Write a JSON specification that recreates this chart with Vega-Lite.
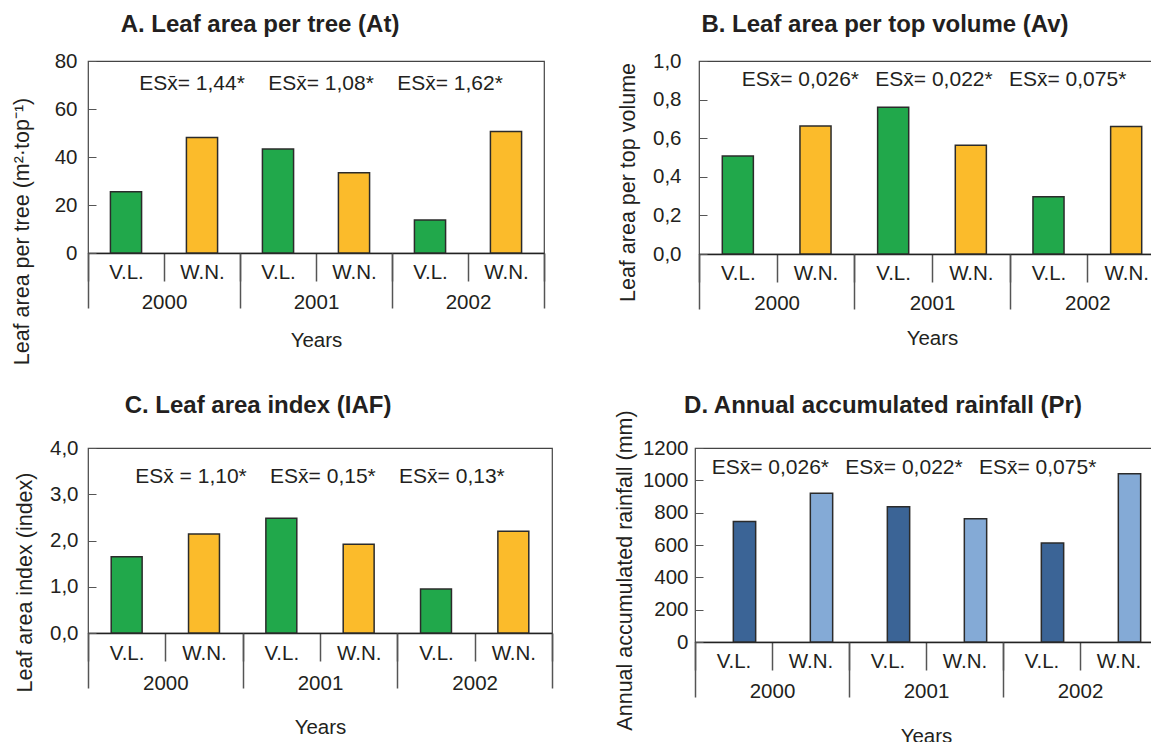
{
  "$schema": "https://vega.github.io/schema/vega-lite/v6.json",
  "padding": {"left": 10, "top": 12, "right": 0, "bottom": 0},
  "background": "white",
  "resolve": {"scale": {"fill": "independent"}},
  "spacing": 24,
  "vconcat": [
    {
      "spacing": 70,
      "resolve": {"scale": {"fill": "independent"}},
      "hconcat": [
        {
          "width": 456, "height": 192,
          "title": {"text": "A. Leaf area per tree (At)", "dx": -56, "offset": 14},
          "layer": [
            {
              "data": {"values": [
                {"year": "2000", "trt": "V.L.", "cat": "2000 V.L.", "value": 25.5},
                {"year": "2000", "trt": "W.N.", "cat": "2000 W.N.", "value": 48.1},
                {"year": "2001", "trt": "V.L.", "cat": "2001 V.L.", "value": 43.3},
                {"year": "2001", "trt": "W.N.", "cat": "2001 W.N.", "value": 33.4},
                {"year": "2002", "trt": "V.L.", "cat": "2002 V.L.", "value": 13.7},
                {"year": "2002", "trt": "W.N.", "cat": "2002 W.N.", "value": 50.6}
              ]},
              "mark": {"type": "bar", "width": {"band": 0.41}, "stroke": "#2b2b2b", "strokeWidth": 1.5},
              "encoding": {
                "x": {"field": "cat", "type": "nominal", "sort": null, "scale": {"paddingInner": 0, "paddingOuter": 0},
                  "axis": {"orient": "bottom", "title": null, "labelAngle": 0, "labelExpr": "split(datum.label, ' ')[1]", "tickBand": "extent", "tickSize": 28, "tickWidth": 1.5, "labelPadding": -19, "domainWidth": 1.5}},
                "y": {"field": "value", "type": "quantitative", "scale": {"domain": [0, 80]},
                  "axis": {"title": "Leaf area per tree  (m²·top⁻¹)", "values": [0, 20, 40, 60, 80], "format": "d", "labelOverlap": false, "tickSize": -8, "domain": false, "grid": false, "labelPadding": 19, "titleFontSize": 21.5, "titleX": -66, "titleY": 170, "titleBaseline": "middle", "titleAngle": 270, "titleAlign": "center"}},
                "fill": {"field": "trt", "type": "nominal", "scale": {"domain": ["V.L.", "W.N."], "range": ["#21a84b", "#fbbb2b"]}, "legend": null}
              }
            },
            {
              "data": {"values": [{"year": "2001", "es": "ESx̄= 1,44* \u00a0\u00a0\u00a0ESx̄= 1,08* \u00a0\u00a0\u00a0ESx̄= 1,62*"}]},
              "mark": {"type": "text", "fontSize": 21, "dx": 5, "baseline": "middle"},
              "encoding": {
                "x": {"field": "year", "type": "nominal", "scale": {"domain": ["2000", "2001", "2002"], "paddingInner": 0, "paddingOuter": 0},
                  "axis": {"orient": "bottom", "title": "Years", "labelAngle": 0, "tickBand": "extent", "tickSize": 55, "tickWidth": 1.5, "domain": false, "labelPadding": -16, "titlePadding": 18}},
                "y": {"datum": 70.5, "type": "quantitative",
                  "axis": {"title": "Leaf area per tree  (m²·top⁻¹)", "values": [0, 20, 40, 60, 80], "format": "d", "labelOverlap": false, "tickSize": -8, "domain": false, "grid": false, "labelPadding": 19, "titleFontSize": 21.5, "titleX": -66, "titleY": 170, "titleBaseline": "middle", "titleAngle": 270, "titleAlign": "center"}},
                "text": {"field": "es"}
              }
            }
          ],
          "resolve": {"scale": {"x": "independent"}, "axis": {"x": "independent"}}
        },
        {
          "width": 466, "height": 193,
          "title": {"text": "B. Leaf area per top volume (Av)", "dx": -47, "offset": 14},
          "layer": [
            {
              "data": {"values": [
                {"year": "2000", "trt": "V.L.", "cat": "2000 V.L.", "value": 0.508},
                {"year": "2000", "trt": "W.N.", "cat": "2000 W.N.", "value": 0.663},
                {"year": "2001", "trt": "V.L.", "cat": "2001 V.L.", "value": 0.760},
                {"year": "2001", "trt": "W.N.", "cat": "2001 W.N.", "value": 0.563},
                {"year": "2002", "trt": "V.L.", "cat": "2002 V.L.", "value": 0.297},
                {"year": "2002", "trt": "W.N.", "cat": "2002 W.N.", "value": 0.660}
              ]},
              "mark": {"type": "bar", "width": {"band": 0.40}, "stroke": "#2b2b2b", "strokeWidth": 1.5},
              "encoding": {
                "x": {"field": "cat", "type": "nominal", "sort": null, "scale": {"paddingInner": 0, "paddingOuter": 0},
                  "axis": {"orient": "bottom", "title": null, "labelAngle": 0, "labelExpr": "split(datum.label, ' ')[1]", "tickBand": "extent", "tickSize": 28, "tickWidth": 1.5, "labelPadding": -19, "domainWidth": 1.5}},
                "y": {"field": "value", "type": "quantitative", "scale": {"domain": [0, 1]},
                  "axis": {"title": "Leaf area per top volume", "values": [0, 0.2, 0.4, 0.6, 0.8, 1.0], "labelOverlap": false, "labelExpr": "replace(format(datum.value, '.1f'), '.', ',')", "tickSize": -8, "domain": false, "grid": false, "labelPadding": 26, "titleFontSize": 21.5, "titleX": -71, "titleY": 121, "titleBaseline": "middle", "titleAngle": 270, "titleAlign": "center"}},
                "fill": {"field": "trt", "type": "nominal", "scale": {"domain": ["V.L.", "W.N."], "range": ["#21a84b", "#fbbb2b"]}, "legend": null}
              }
            },
            {
              "data": {"values": [{"year": "2001", "es": "ESx̄= 0,026* \u2002ESx̄= 0,022* \u2002ESx̄= 0,075*"}]},
              "mark": {"type": "text", "fontSize": 21, "dx": 2, "baseline": "middle"},
              "encoding": {
                "x": {"field": "year", "type": "nominal", "scale": {"domain": ["2000", "2001", "2002"], "paddingInner": 0, "paddingOuter": 0},
                  "axis": {"orient": "bottom", "title": "Years", "labelAngle": 0, "tickBand": "extent", "tickSize": 55, "tickWidth": 1.5, "domain": false, "labelPadding": -16, "titlePadding": 15}},
                "y": {"datum": 0.9, "type": "quantitative",
                  "axis": {"title": "Leaf area per top volume", "values": [0, 0.2, 0.4, 0.6, 0.8, 1.0], "labelOverlap": false, "labelExpr": "replace(format(datum.value, '.1f'), '.', ',')", "tickSize": -8, "domain": false, "grid": false, "labelPadding": 26, "titleFontSize": 21.5, "titleX": -71, "titleY": 121, "titleBaseline": "middle", "titleAngle": 270, "titleAlign": "center"}},
                "text": {"field": "es"}
              }
            }
          ],
          "resolve": {"scale": {"x": "independent"}, "axis": {"x": "independent"}}
        }
      ]
    },
    {
      "spacing": 59,
      "resolve": {"scale": {"fill": "independent"}},
      "hconcat": [
        {
          "width": 464, "height": 185,
          "title": {"text": "C. Leaf area index (IAF)", "dx": -62, "offset": 20},
          "layer": [
            {
              "data": {"values": [
                {"year": "2000", "trt": "V.L.", "cat": "2000 V.L.", "value": 1.65},
                {"year": "2000", "trt": "W.N.", "cat": "2000 W.N.", "value": 2.14},
                {"year": "2001", "trt": "V.L.", "cat": "2001 V.L.", "value": 2.48},
                {"year": "2001", "trt": "W.N.", "cat": "2001 W.N.", "value": 1.92},
                {"year": "2002", "trt": "V.L.", "cat": "2002 V.L.", "value": 0.95},
                {"year": "2002", "trt": "W.N.", "cat": "2002 W.N.", "value": 2.20}
              ]},
              "mark": {"type": "bar", "width": {"band": 0.40}, "stroke": "#2b2b2b", "strokeWidth": 1.5},
              "encoding": {
                "x": {"field": "cat", "type": "nominal", "sort": null, "scale": {"paddingInner": 0, "paddingOuter": 0},
                  "axis": {"orient": "bottom", "title": null, "labelAngle": 0, "labelExpr": "split(datum.label, ' ')[1]", "tickBand": "extent", "tickSize": 28, "tickWidth": 1.5, "labelPadding": -18, "domainWidth": 1.5}},
                "y": {"field": "value", "type": "quantitative", "scale": {"domain": [0, 4]},
                  "axis": {"title": "Leaf area index  (index)", "values": [0, 1, 2, 3, 4], "labelOverlap": false, "labelExpr": "replace(format(datum.value, '.1f'), '.', ',')", "tickSize": -8, "domain": false, "grid": false, "labelPadding": 18, "titleFontSize": 21.5, "titleX": -63, "titleY": 134, "titleBaseline": "middle", "titleAngle": 270, "titleAlign": "center"}},
                "fill": {"field": "trt", "type": "nominal", "scale": {"domain": ["V.L.", "W.N."], "range": ["#21a84b", "#fbbb2b"]}, "legend": null}
              }
            },
            {
              "data": {"values": [{"year": "2001", "es": "ESx̄ = 1,10* \u00a0\u00a0\u00a0ESx̄= 0,15* \u00a0\u00a0\u00a0ESx̄= 0,13*"}]},
              "mark": {"type": "text", "fontSize": 21, "dx": 0, "baseline": "middle"},
              "encoding": {
                "x": {"field": "year", "type": "nominal", "scale": {"domain": ["2000", "2001", "2002"], "paddingInner": 0, "paddingOuter": 0},
                  "axis": {"orient": "bottom", "title": "Years", "labelAngle": 0, "tickBand": "extent", "tickSize": 55, "tickWidth": 1.5, "domain": false, "labelPadding": -15, "titlePadding": 24}},
                "y": {"datum": 3.37, "type": "quantitative",
                  "axis": {"title": "Leaf area index  (index)", "values": [0, 1, 2, 3, 4], "labelOverlap": false, "labelExpr": "replace(format(datum.value, '.1f'), '.', ',')", "tickSize": -8, "domain": false, "grid": false, "labelPadding": 18, "titleFontSize": 21.5, "titleX": -63, "titleY": 134, "titleBaseline": "middle", "titleAngle": 270, "titleAlign": "center"}},
                "text": {"field": "es"}
              }
            }
          ],
          "resolve": {"scale": {"x": "independent"}, "axis": {"x": "independent"}}
        },
        {
          "width": 462, "height": 194,
          "title": {"text": "D. Annual accumulated rainfall (Pr)", "dx": -43, "offset": -8},
          "layer": [
            {
              "data": {"values": [
                {"year": "2000", "trt": "V.L.", "cat": "2000 V.L.", "value": 745},
                {"year": "2000", "trt": "W.N.", "cat": "2000 W.N.", "value": 920},
                {"year": "2001", "trt": "V.L.", "cat": "2001 V.L.", "value": 836},
                {"year": "2001", "trt": "W.N.", "cat": "2001 W.N.", "value": 762},
                {"year": "2002", "trt": "V.L.", "cat": "2002 V.L.", "value": 613},
                {"year": "2002", "trt": "W.N.", "cat": "2002 W.N.", "value": 1040}
              ]},
              "mark": {"type": "bar", "width": {"band": 0.29}, "xOffset": 11, "stroke": "#2b2b2b", "strokeWidth": 1.5},
              "encoding": {
                "x": {"field": "cat", "type": "nominal", "sort": null, "scale": {"paddingInner": 0, "paddingOuter": 0},
                  "axis": {"orient": "bottom", "title": null, "labelAngle": 0, "labelExpr": "split(datum.label, ' ')[1]", "tickBand": "extent", "tickSize": 28, "tickWidth": 1.5, "labelPadding": -19, "domainWidth": 1.5}},
                "y": {"field": "value", "type": "quantitative", "scale": {"domain": [0, 1200]},
                  "axis": {"title": "Annual accumulated rainfall (mm)", "values": [0, 200, 400, 600, 800, 1000, 1200], "format": "d", "labelOverlap": false, "tickSize": -8, "domain": false, "grid": false, "labelPadding": 15, "titleFontSize": 21.5, "titleX": -70, "titleY": 122, "titleBaseline": "middle", "titleAngle": 270, "titleAlign": "center"}},
                "fill": {"field": "trt", "type": "nominal", "scale": {"domain": ["V.L.", "W.N."], "range": ["#3b6496", "#84aad6"]}, "legend": null}
              }
            },
            {
              "data": {"values": [{"year": "2001", "es": "ESx̄= 0,026* \u2002ESx̄= 0,022* \u2002ESx̄= 0,075*"}]},
              "mark": {"type": "text", "fontSize": 21, "dx": -22, "baseline": "middle"},
              "encoding": {
                "x": {"field": "year", "type": "nominal", "scale": {"domain": ["2000", "2001", "2002"], "paddingInner": 0, "paddingOuter": 0},
                  "axis": {"orient": "bottom", "title": "Years", "labelAngle": 0, "tickBand": "extent", "tickSize": 55, "tickWidth": 1.5, "domain": false, "labelPadding": -16, "titlePadding": 25}},
                "y": {"datum": 1074, "type": "quantitative",
                  "axis": {"title": "Annual accumulated rainfall (mm)", "values": [0, 200, 400, 600, 800, 1000, 1200], "format": "d", "labelOverlap": false, "tickSize": -8, "domain": false, "grid": false, "labelPadding": 15, "titleFontSize": 21.5, "titleX": -70, "titleY": 122, "titleBaseline": "middle", "titleAngle": 270, "titleAlign": "center"}},
                "text": {"field": "es"}
              }
            }
          ],
          "resolve": {"scale": {"x": "independent"}, "axis": {"x": "independent"}}
        }
      ]
    }
  ],
  "config": {
    "font": "Liberation Sans",
    "view": {"stroke": "#444", "strokeWidth": 1.2},
    "axis": {"labelFontSize": 20.5, "titleFontSize": 20.5, "titleFontWeight": "normal", "labelColor": "#231f20", "titleColor": "#231f20", "tickColor": "#555", "domainColor": "#222", "labelFont": "Liberation Sans", "titleFont": "Liberation Sans"},
    "title": {"fontSize": 24, "fontWeight": "bold", "color": "#231f20", "anchor": "middle", "frame": "group", "font": "Liberation Sans"},
    "text": {"color": "#231f20", "font": "Liberation Sans"}
  }
}
